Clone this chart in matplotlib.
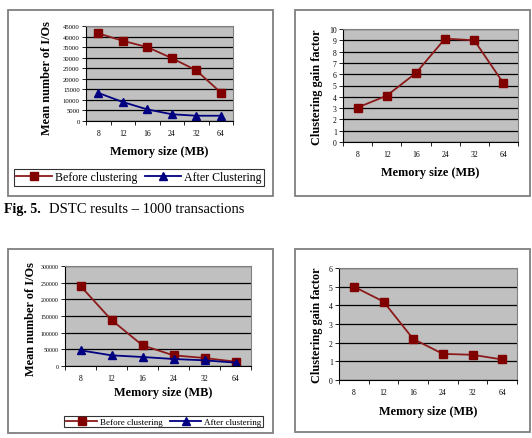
import matplotlib
matplotlib.use("Agg")
import matplotlib.pyplot as plt
from matplotlib.patches import Rectangle

plt.rcParams['font.family'] = ['Liberation Serif', 'DejaVu Serif']

categories = ["8", "12", "16", "24", "32", "64"]

# Fig 5 (1000 transactions)
before_1000 = [41500, 38000, 35000, 29800, 24000, 13500]
after_1000 = [13300, 9000, 5500, 3200, 2500, 2500]
gain_1000 = [3.05, 4.1, 6.1, 9.15, 9.0, 5.2]

# second set
before_2 = [240000, 138000, 62000, 32000, 24000, 13000]
after_2 = [47000, 32000, 27000, 21000, 17000, 10000]
gain_2 = [5.0, 4.2, 2.2, 1.4, 1.35, 1.1]

W, H = 532, 439
fig = plt.figure(figsize=(W / 100, H / 100), dpi=100)

RED = '#8c1a1a'
REDM = '#800000'
BLUE = '#000080'
GRAY = '#c0c0c0'


def fx(px):
    return px / W


def fy(py):
    return 1 - py / H


def ax_px(x0, y0, x1, y1):
    return fig.add_axes([x0 / W, 1 - y1 / H, (x1 - x0) / W, (y1 - y0) / H])


def frame(x0, y0, x1, y1):
    fig.patches.append(Rectangle((x0 / W, 1 - y1 / H), (x1 - x0) / W, (y1 - y0) / H,
                                 transform=fig.transFigure, fill=False,
                                 edgecolor='#7f7f7f', linewidth=1.3))


def style(ax, ymax, ystep, yfs):
    ax.set_facecolor(GRAY)
    n = len(categories)
    ax.set_xlim(-0.5, n - 0.5)
    ax.set_ylim(0, ymax)
    ax.set_yticks(list(range(0, ymax + 1, ystep)))
    ax.yaxis.grid(True, color='black', linewidth=0.9)
    ax.set_axisbelow(True)
    ax.set_xticks([i - 0.5 for i in range(n + 1)])
    ax.set_xticklabels([])
    ax.set_xticks(range(n), minor=True)
    ax.set_xticklabels(categories, minor=True, fontsize=5.5)
    ax.tick_params(axis='x', which='minor', length=0, pad=6)
    ax.tick_params(axis='x', which='major', length=3, width=0.6, direction='out')
    ax.tick_params(axis='y', length=3, width=0.6, labelsize=yfs, pad=1.5)
    for s in ['top', 'right']:
        ax.spines[s].set_color('#808080')
        ax.spines[s].set_linewidth(0.8)
    for s in ['left', 'bottom']:
        ax.spines[s].set_color('black')
        ax.spines[s].set_linewidth(0.8)


def labels(xl_x, xl_y, yl_x, yl_y, ylabel):
    fig.text(fx(xl_x), fy(xl_y), "Memory size (MB)", fontsize=8.8, fontweight='bold',
             ha='center', va='center')
    fig.text(fx(yl_x), fy(yl_y), ylabel, fontsize=8.8, fontweight='bold',
             ha='center', va='center', rotation=90)


x = list(range(len(categories)))
MS = 5.5

# ---------- top-left ----------
frame(8, 11, 273, 197)
ax1 = ax_px(86, 27, 233, 122)
ax1.plot(x, before_1000, color=RED, lw=1.3, marker='s', ms=MS, mfc=REDM, mec=REDM,
         label='Before clustering')
ax1.plot(x, after_1000, color=BLUE, lw=1.3, marker='^', ms=MS + 0.5, mfc=BLUE, mec=BLUE,
         label='After Clustering')
style(ax1, 45000, 5000, 4.8)
labels(159, 152, 47, 78, "Mean number of I/Os")
leg1 = ax1.legend(loc='center', bbox_to_anchor=((17 - 86) / 147, 1 - (187 - 27) / 95,
                                                (261 - 17) / 147, (187 - 170) / 95),
                  ncol=2, fontsize=8.6, frameon=True, fancybox=False, edgecolor='black',
                  borderpad=0.2, handlelength=3, columnspacing=0.6, handletextpad=0.3,
                  borderaxespad=0)
leg1.get_frame().set_linewidth(0.8)

# ---------- top-right ----------
frame(295, 11, 530, 197)
ax2 = ax_px(343, 30, 518, 143)
ax2.plot(x, gain_1000, color=RED, lw=1.3, marker='s', ms=MS, mfc=REDM, mec=REDM)
style(ax2, 10, 1, 5.5)
labels(430, 173, 317, 87, "Clustering gain factor")

# caption
fig.text(4 / W, 1 - 210 / H, "Fig. 5.", fontsize=10, fontweight='bold',
         va='center', ha='left')
fig.text(49 / W, 1 - 210 / H, "DSTC results \u2013 1000 transactions", fontsize=10.5,
         va='center', ha='left')

# ---------- bottom-left ----------
frame(8, 250, 273, 434)
ax3 = ax_px(65, 267, 251, 367)
ax3.plot(x, before_2, color=RED, lw=1.3, marker='s', ms=MS, mfc=REDM, mec=REDM,
         label='Before clustering')
ax3.plot(x, after_2, color=BLUE, lw=1.3, marker='^', ms=MS + 0.5, mfc=BLUE, mec=BLUE,
         label='After clustering')
style(ax3, 300000, 50000, 4.2)
labels(163, 393, 31, 319, "Mean number of I/Os")
leg3 = ax3.legend(loc='center', bbox_to_anchor=((70 - 65) / 186, 1 - (431 - 267) / 100,
                                                (257 - 70) / 186, (431 - 414) / 100),
                  ncol=2, fontsize=6.5, frameon=True, fancybox=False, edgecolor='black',
                  borderpad=0.2, handlelength=3.5, columnspacing=0.8, handletextpad=0.3,
                  borderaxespad=0)
leg3.get_frame().set_linewidth(0.8)

# ---------- bottom-right ----------
frame(295, 250, 530, 433)
ax4 = ax_px(339, 269, 517, 381)
ax4.plot(x, gain_2, color=RED, lw=1.3, marker='s', ms=MS, mfc=REDM, mec=REDM)
style(ax4, 6, 1, 5.5)
labels(428, 412, 317, 325, "Clustering gain factor")

fig.savefig("out.png", dpi=100)
